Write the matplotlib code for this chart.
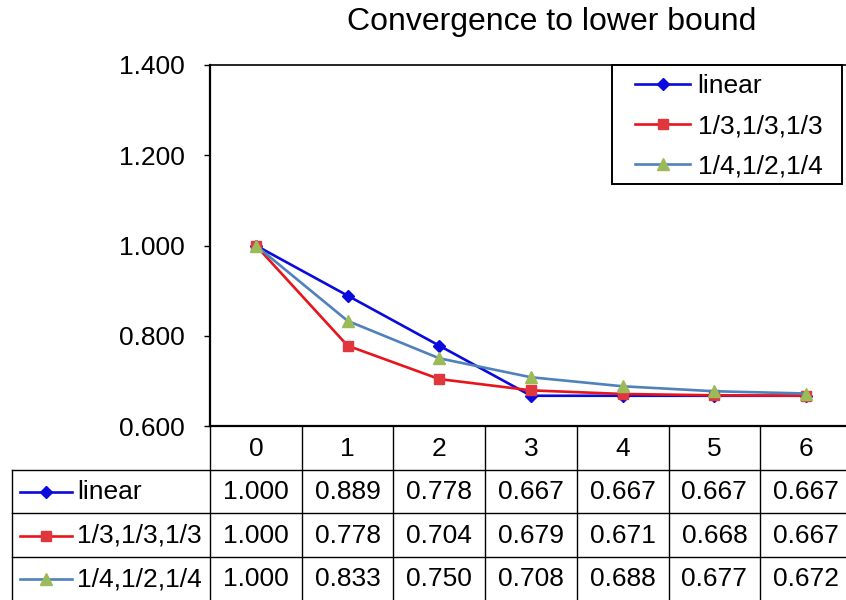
import numpy as np
import matplotlib
matplotlib.use('Agg')
import matplotlib.pyplot as plt
from matplotlib.patches import Rectangle

plt.rcParams['font.family'] = ['Liberation Sans', 'DejaVu Sans']

# iteration index and the three weighting schemes
steps = [0, 1, 2, 3, 4, 5, 6]
names = ['linear', '1/3,1/3,1/3', '1/4,1/2,1/4']
linear = [1.000, 0.889, 0.778, 0.667, 0.667, 0.667, 0.667]
third = [1.000, 0.778, 0.704, 0.679, 0.671, 0.668, 0.667]
quarter = [1.000, 0.833, 0.750, 0.708, 0.688, 0.677, 0.672]
series = [linear, third, quarter]

line_cols = ['#0A0ADC', '#E8141C', '#4F81BD']
mark_cols = ['#0A0ADC', '#E0363E', '#9BBB59']
markers = ['D', 's', '^']
msizes = [6, 7, 8]
fs = 19

W, H = 846, 600
fig = plt.figure(figsize=(W/100, H/100), dpi=100)

# plot area in pixels
L, R, T, B = 210, 852, 65, 426
cw = (R - L) / len(steps)
ax = fig.add_axes([L/W, 1 - B/H, (R - L)/W, (B - T)/H])

for vals, lc, mc, mk, ms, nm in zip(series, line_cols, mark_cols, markers, msizes, names):
    ax.plot(steps, vals, color=lc, lw=1.9, marker=mk, ms=ms, mfc=mc, mec=mc, label=nm, clip_on=False)

ax.set_xlim(-0.5, 6.5)
ax.set_ylim(0.6, 1.4)
ax.set_yticks(np.arange(0.6, 1.41, 0.2))
ax.set_yticklabels(['%.3f' % v for v in np.arange(0.6, 1.41, 0.2)], fontsize=fs)
ax.set_xticks([])
ax.tick_params(axis='y', length=4, width=1, pad=14)
ax.spines['left'].set_linewidth(1.6)
ax.spines['bottom'].set_linewidth(1.6)
ax.spines['top'].set_linewidth(1.2)

# legend: frameless entries inside a hand-drawn box
ax.add_patch(Rectangle((612/W, 1 - 184/H), 230/W, 119/H, transform=fig.transFigure,
                       fc='white', ec='black', lw=1.4, zorder=4, clip_on=False))
leg = ax.legend(loc='upper left', bbox_to_anchor=(635/W, 1 - 74/H), bbox_transform=fig.transFigure,
                frameon=False, borderaxespad=0, borderpad=0, fontsize=fs,
                handlelength=2.1, handletextpad=0.27, labelspacing=0.61)
leg.set_zorder(5)

fig.text(552/W, 1 - 22/H, 'Convergence to lower bound', ha='center', va='center', fontsize=23)

# data table under the plot
TL = 12
lw_cols = (L - TL) / cw
tx = fig.add_axes([TL/W, 0, (R - TL)/W, (H - B)/H])
tx.set_xlim(-0.5 - lw_cols, 6.5)
tx.set_ylim(4, 0)
tx.axis('off')
x0 = -0.5 - lw_cols

def px(p):
    return x0 + (p - TL) / cw

kw = dict(color='black', lw=1.0, clip_on=False)
for k in range(len(steps) + 1):
    tx.plot([k - 0.5, k - 0.5], [0, 4], **kw)
tx.plot([x0, x0], [1, 4], **kw)
for r in [1, 2, 3]:
    tx.plot([x0, 6.5], [r, r], **kw)

for i, s in enumerate(steps):
    tx.text(i, 0.52, str(s), ha='center', va='center', fontsize=fs)
for r, (vals, lc, mc, mk, ms, nm) in enumerate(zip(series, line_cols, mark_cols, markers, msizes, names)):
    y = r + 1.52
    tx.plot([px(20), px(72)], [y, y], color=lc, lw=1.9, clip_on=False)
    tx.plot([px(46)], [y], marker=mk, ms=ms, mfc=mc, mec=mc, clip_on=False)
    tx.text(px(77), y, nm, ha='left', va='center', fontsize=fs)
    for i, v in enumerate(vals):
        tx.text(i, y, '%.3f' % v, ha='center', va='center', fontsize=fs)

fig.savefig('out.png', dpi=100)
